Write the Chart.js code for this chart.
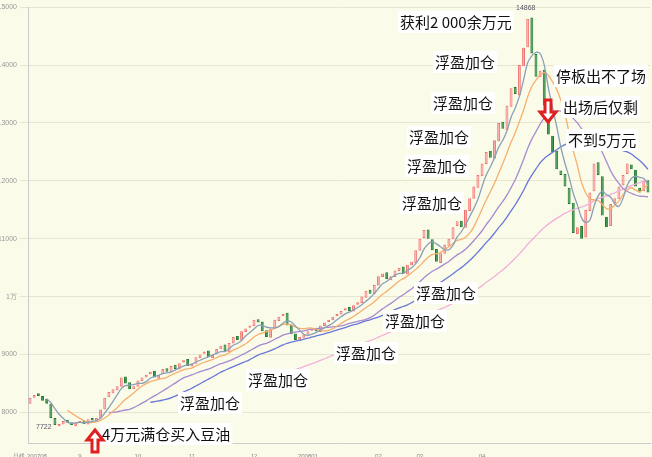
<!DOCTYPE html>
<html><head><meta charset="utf-8">
<script src="https://cdn.jsdelivr.net/npm/chart.js@4/dist/chart.umd.min.js"></script>
<style>html,body{margin:0;padding:0;background:#fbfbe9}#w{width:652px;height:457px}</style>
</head><body><div id="w"><canvas id="c"></canvas></div>
<script>
const closes=[8250,8300,8280,8200,8150,7900,7780,7800,7850,7820,7780,7830,7850,7800,7880,7860,7900,
8050,8250,8350,8400,8450,8600,8500,8400,8450,8550,
8600,8650,8700,8600,8650,8750,8700,8800,8750,8850,8900,8800,8850,8950,
9000,9050,8950,9000,9100,9150,9050,9200,9300,9250,9400,9450,
9500,9600,9550,9400,9300,9450,9600,9650,
9700,9500,9350,9250,9300,
9350,9400,9450,9400,9500,9550,9600,9650,9700,9750,
9800,9750,9850,9900,10000,10100,10050,10200,10350,10400,
10300,10350,10450,10500,10400,10550,10600,
10800,11000,11150,11000,10800,10600,10750,10900,
11000,11200,11300,11200,11500,11700,11900,12100,
12300,12500,12400,12700,13000,12900,13300,
13600,13500,14000,14300,14800,14200,
13800,13900,13300,12800,12500,12200,12100,
11900,11600,11100,11200,11000,11500,
11800,12300,12100,11400,11200,11600,11700,
11900,12100,12300,12200,11900,11800,12000,11800];
const opens=[8150,8250,8330,8280,8230,8150,7900,7760,7790,7870,7830,7760,7820,7860,7790,7900,7850,
7900,8050,8260,8330,8380,8440,8620,8520,8400,8440,
8540,8600,8660,8720,8580,8660,8760,8690,8820,8740,8860,8920,8790,8840,
8940,9010,9070,8940,9010,9090,9170,9040,9190,9320,9240,9390,
9460,9490,9610,9570,9420,9290,9440,9580,
9660,9720,9510,9360,9240,
9290,9340,9410,9460,9390,9490,9560,9590,9660,9690,
9760,9820,9740,9860,9890,9980,10120,10040,10190,10340,
10420,10280,10340,10440,10520,10380,10540,
10580,10790,11010,11160,10990,10820,10580,10740,
10880,10990,11220,11310,11190,11480,11690,11880,
12080,12290,12520,12380,12680,13020,12880,
13280,13620,13480,13980,14310,14820,
14190,13790,13920,13280,12780,12520,12180,
12120,11880,11620,11080,11220,11020,
11480,11820,12320,12080,11380,11220,11610,
11680,11920,12120,12280,12190,11880,11820,12010];
const dayLabels={0:'日线 200708',12:'9',26:'10',39:'11',54:'12',67:'200801',84:'02',94:'03',109:'04'};
const labels=closes.map((_,i)=>dayLabels[i]||'');
function ma(n){return closes.map((_,i)=>i<n-1?null:closes.slice(i-n+1,i+1).reduce((a,b)=>a+b,0)/n);}
const up=closes.map((c,i)=>c>=opens[i]);
const notes=[
['获利2 000余万元',400,22],['浮盈加仓',435,62],['停板出不了场',556,76],['浮盈加仓',433,103],
['出场后仅剩',563,107],['浮盈加仓',409,137],['不到5万元',568,140],['浮盈加仓',407,166],
['浮盈加仓',402,203],['浮盈加仓',416,293],['浮盈加仓',385,321],['浮盈加仓',336,353],
['浮盈加仓',248,380],['浮盈加仓',180,403],['4万元满仓买入豆油',102,434]];
const deco={id:'deco',afterDatasetsDraw(ch){const g=ch.ctx;g.save();
g.font='15px "Noto Sans CJK SC"';g.textBaseline='middle';
notes.forEach(([t,x,y])=>{const w=g.measureText(t).width;g.fillStyle='#fff';g.fillRect(x-2,y-11,w+4,22);g.fillStyle='#111';g.fillText(t,x,y);});
function arrow(x,y,dir){g.fillStyle='#fff';g.strokeStyle='#e02020';g.lineWidth=3;g.beginPath();
const s=dir;g.moveTo(x-3,y);g.lineTo(x-3,y+s*12);g.lineTo(x-8,y+s*12);g.lineTo(x,y+s*22);g.lineTo(x+8,y+s*12);g.lineTo(x+3,y+s*12);g.lineTo(x+3,y);g.closePath();g.fill();g.stroke();}
arrow(95,452,-1);arrow(548,100,1);
g.font='7px sans-serif';g.fillStyle='#556';g.fillText('7722',36,427);g.fillText('14868',516,8);
g.restore();}};
new Chart(document.getElementById('c'),{type:'bar',
data:{labels,datasets:[
{type:'line',data:ma(5),borderColor:'#8aa0b8',borderWidth:1.3,pointRadius:0,tension:0.3},
{type:'line',data:ma(10),borderColor:'#f5b070',borderWidth:1.3,pointRadius:0,tension:0.3},
{type:'line',data:ma(20),borderColor:'#a58ad0',borderWidth:1.3,pointRadius:0,tension:0.3},
{type:'line',data:ma(30),borderColor:'#6878d8',borderWidth:1.3,pointRadius:0,tension:0.3},
{type:'line',data:ma(60),borderColor:'#f4b0dc',borderWidth:1.3,pointRadius:0,tension:0.3},
{data:closes.map((c,i)=>[opens[i],c]),backgroundColor:up.map(u=>u?'#f8a8a8':'#2e8b3e'),borderColor:up.map(u=>u?'#f07070':'#1f7a30'),borderWidth:1,borderSkipped:false,barPercentage:0.7,categoryPercentage:1}
]},
options:{animation:false,responsive:true,maintainAspectRatio:false,
plugins:{legend:{display:false},tooltip:{enabled:false}},
layout:{padding:{right:2}},
scales:{
x:{grid:{display:false},border:{color:'#ccc'},ticks:{autoSkip:false,maxRotation:0,font:{size:6},color:'#888',padding:2,callback:(v,i)=>labels[i]},afterFit:a=>{a.height=14}},
y:{min:7470,max:15000,grid:{color:'#e6e6d0'},border:{color:'#ccc'},afterFit:a=>{a.width=28},
ticks:{stepSize:1000,font:{size:7},color:'#999',callback:v=>v===10000?'1万':(v%1000===0?v:'')},
afterBuildTicks:a=>{a.ticks=[8000,9000,10000,11000,12000,13000,14000,15000].map(v=>({value:v}))}}}},
plugins:[deco]});
</script></body></html>
